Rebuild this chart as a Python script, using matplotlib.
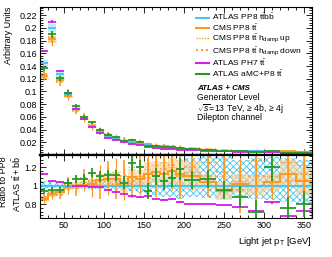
import numpy as np
import matplotlib
matplotlib.use("Agg")
import matplotlib.pyplot as plt
import matplotlib.ticker as ticker

plt.rcParams['font.family'] = ['Liberation Sans', 'DejaVu Sans']
plt.rcParams['mathtext.fontset'] = 'custom'
plt.rcParams['mathtext.rm'] = 'Liberation Sans'
plt.rcParams['mathtext.it'] = 'Liberation Sans:italic'
plt.rcParams['mathtext.bf'] = 'Liberation Sans:bold'
plt.rcParams['hatch.linewidth'] = 0.6

# bin edges of light jet pT [GeV]
edges = [20, 30, 40, 50, 60, 70, 80, 90, 100, 110, 120, 130, 140, 150, 160,
         170, 180, 190, 200, 220, 240, 260, 280, 300, 320, 340, 360]

# ATLAS PP8 ttbb (reference) normalised distribution
ref = [0.145, 0.200, 0.127, 0.095, 0.072, 0.056, 0.045, 0.036, 0.029, 0.025,
       0.022, 0.019, 0.017, 0.015, 0.013, 0.012, 0.011, 0.010, 0.009, 0.008,
       0.007, 0.0065, 0.006, 0.0055, 0.005, 0.0048]
ref_lo = [0.96, 0.97, 0.97, 0.97, 0.97, 0.96, 0.96, 0.96, 0.95, 0.95, 0.94, 0.94, 0.92,
          0.91, 0.90, 0.88, 0.88, 0.86, 0.88, 0.87, 0.86, 0.88, 0.85, 0.84, 0.82, 0.80]
ref_hi = [1.05, 1.04, 1.04, 1.03, 1.03, 1.03, 1.04, 1.04, 1.04, 1.05, 1.05, 1.06, 1.06,
          1.05, 1.08, 1.10, 1.12, 1.15, 1.30, 1.32, 1.32, 1.28, 1.30, 1.31, 1.30, 1.28]

# ratios to ATLAS PP8 ttbb
cms = [0.86, 0.91, 0.93, 0.98, 1.00, 1.01, 1.02, 1.06, 1.07, 1.07, 1.00, 1.09, 1.07,
       1.13, 1.15, 1.12, 1.16, 1.12, 1.10, 1.04, 0.94, 1.02, 1.00, 1.04, 1.13, 1.05]
cms_err = [0.03, 0.03, 0.03, 0.03, 0.04, 0.04, 0.05, 0.06, 0.07, 0.08, 0.08, 0.09, 0.10,
           0.12, 0.12, 0.13, 0.14, 0.15, 0.15, 0.08, 0.10, 0.10, 0.10, 0.10, 0.15, 0.15]
hup = [0.84, 0.90, 0.95, 0.97, 1.02, 1.04, 1.00, 1.10, 1.05, 1.15, 1.02, 1.20, 1.10,
       1.18, 1.22, 1.25, 1.20, 1.28, 1.15, 1.25, 1.10, 1.05, 1.28, 1.10, 1.25, 1.22]
hup_err = [0.03, 0.04, 0.05, 0.06, 0.08, 0.10, 0.12, 0.12, 0.15, 0.15, 0.18, 0.20, 0.20,
           0.20, 0.22, 0.25, 0.25, 0.25, 0.20, 0.20, 0.22, 0.25, 0.25, 0.25, 0.30, 0.30]
hdn = [0.88, 0.93, 0.90, 1.02, 0.97, 1.08, 1.05, 1.00, 1.12, 1.02, 1.10, 1.05, 1.20,
       1.08, 1.10, 1.18, 1.22, 1.10, 1.20, 1.10, 1.15, 0.95, 1.10, 1.20, 1.05, 1.12]
hdn_err = [0.03, 0.04, 0.05, 0.07, 0.08, 0.10, 0.10, 0.14, 0.15, 0.16, 0.18, 0.18, 0.20,
           0.22, 0.22, 0.22, 0.25, 0.25, 0.22, 0.22, 0.25, 0.25, 0.28, 0.28, 0.30, 0.30]
ph7 = [1.13, 1.05, 1.04, 1.03, 1.00, 1.00, 0.99, 0.98, 0.95, 0.93, 0.91, 0.89, 0.88,
       0.89, 0.86, 0.84, 0.85, 0.82, 0.80, 0.80, 0.79, 0.77, 0.73, 0.82, 0.67, 0.73]
ph7_err = [0.01, 0.01, 0.01, 0.01, 0.01, 0.01, 0.01, 0.01, 0.01, 0.01, 0.01, 0.01, 0.01,
           0.01, 0.01, 0.01, 0.01, 0.01, 0.01, 0.01, 0.015, 0.015, 0.015, 0.015, 0.02, 0.02]
amc = [0.94, 0.95, 0.95, 1.03, 1.07, 1.07, 1.14, 1.10, 1.11, 1.11, 1.03, 1.24, 1.20,
       0.94, 1.10, 1.05, 1.08, 1.18, 1.06, 1.07, 0.95, 0.88, 0.72, 1.20, 0.76, 0.80]
amc_err = [0.03, 0.03, 0.03, 0.04, 0.04, 0.05, 0.05, 0.06, 0.06, 0.06, 0.07, 0.08, 0.08,
           0.09, 0.09, 0.10, 0.10, 0.12, 0.10, 0.10, 0.10, 0.12, 0.12, 0.15, 0.12, 0.14]

C_CYAN = '#45c4ee'
C_ORA = '#ff9a1f'
C_MAG = '#d21ee6'
C_GRN = '#259a25'
C_PEACH = '#fbcf9c'

edges = np.array(edges, dtype=float)
cen = 0.5 * (edges[1:] + edges[:-1])
hw = 0.5 * (edges[1:] - edges[:-1])
ref = np.array(ref)


def stepvals(v):
    v = np.asarray(v, dtype=float)
    return np.append(v, v[-1])


def dotted(eb, kind):
    eb[2][0].set_linestyle((0, (1, 1)) if kind == 'up' else (0, (1, 2)))


fig = plt.figure(figsize=(3.32, 2.57), dpi=100)
ax = fig.add_axes([40 / 332, 1 - 155 / 257, 272 / 332, 148 / 257])
rax = fig.add_axes([40 / 332, 1 - 218 / 257, 272 / 332, 63 / 257], sharex=ax)

# ---- top panel ----
for r, e, kind in [(hup, hup_err, 'up'), (hdn, hdn_err, 'dn')]:
    eb = ax.errorbar(cen, ref * np.array(r), xerr=hw, yerr=ref * np.array(e), fmt='none',
                     ecolor=C_ORA, elinewidth=0.9 if kind == 'up' else 1.2)
    dotted(eb, kind)

cms_val = ref * np.array(cms)
cms_e = ref * np.array(cms_err)
ax.bar(cen, 2 * cms_e, bottom=cms_val - cms_e, width=2 * hw, color=C_PEACH, alpha=0.7, lw=0)
ax.errorbar(cen, cms_val, xerr=hw, yerr=cms_e, fmt='none', ecolor=C_ORA, elinewidth=1.3)

ax.bar(cen, ref * 0.06, bottom=ref * 0.97, width=2 * hw, color=C_CYAN, alpha=0.35, lw=0)
ax.errorbar(cen, ref, xerr=hw, fmt='none', ecolor=C_CYAN, elinewidth=1.3)

for r, e, c in [(ph7, ph7_err, C_MAG), (amc, amc_err, C_GRN)]:
    ax.errorbar(cen, ref * np.array(r), xerr=hw, yerr=ref * np.array(e), fmt='none',
                ecolor=c, elinewidth=1.3)

# legend handles
ax.plot([], [], color=C_CYAN, lw=1.5, label=r'ATLAS PP8 $\mathrm{t\bar{t}b\bar{b}}$')
ax.plot([], [], color=C_ORA, lw=1.5, label=r'CMS PP8 $\mathrm{t\bar{t}}$')
ax.plot([], [], color=C_ORA, lw=1.0, ls=(0, (1, 1)),
        label=r'CMS PP8 $\mathrm{t\bar{t}}$ $\mathrm{h_{damp}}$ up')
ax.plot([], [], color=C_ORA, lw=1.4, ls=(0, (1, 1.6)),
        label=r'CMS PP8 $\mathrm{t\bar{t}}$ $\mathrm{h_{damp}}$ down')
ax.plot([], [], color=C_MAG, lw=1.5, label=r'ATLAS PH7 $\mathrm{t\bar{t}}$')
ax.plot([], [], color=C_GRN, lw=1.5, label=r'ATLAS aMC+P8 $\mathrm{t\bar{t}}$')
fig.legend(loc='upper left', bbox_to_anchor=(196 / 332, 1 - 12 / 257), frameon=False,
           fontsize=6, handlelength=1.6, handletextpad=0.3, labelspacing=0.0,
           borderpad=0, borderaxespad=0)

fig.text(197 / 332, 1 - 88 / 257, 'ATLAS + CMS', fontsize=5.8, fontweight='bold',
         fontstyle='italic', va='center')
fig.text(197 / 332, 1 - 98 / 257, 'Generator Level', fontsize=6.2, va='center')
fig.text(197 / 332, 1 - 108 / 257, r'$\sqrt{s}$=13 TeV, ≥ 4b, ≥ 4j', fontsize=6.2,
         va='center')
fig.text(197 / 332, 1 - 118 / 257, 'Dilepton channel', fontsize=6.2, va='center')

ax.set_ylim(0, 0.233)
ax.set_yticks(np.arange(0.02, 0.225, 0.02))
ax.yaxis.set_major_formatter(ticker.FormatStrFormatter('%g'))
ax.yaxis.set_minor_locator(ticker.MultipleLocator(0.004))
ax.set_ylabel('Arbitrary Units', fontsize=6.5, loc='top')
plt.setp(ax.get_xticklabels(), visible=False)
ax.spines['bottom'].set_linewidth(1.6)

# ---- ratio panel ----
rax.fill_between(edges, stepvals(ref_lo), stepvals(ref_hi), step='post',
                 facecolor='none', edgecolor=C_CYAN, hatch='xxxxx', lw=0)
rax.fill_between(edges, stepvals(np.array(cms) - cms_err),
                 stepvals(np.array(cms) + cms_err), step='post',
                 color=C_PEACH, alpha=0.6, lw=0)
rax.axhline(1.0, color=C_CYAN, lw=1.5)
for r, e, kind in [(hup, hup_err, 'up'), (hdn, hdn_err, 'dn')]:
    eb = rax.errorbar(cen, r, xerr=hw, yerr=e, fmt='none', ecolor=C_ORA,
                      elinewidth=0.9 if kind == 'up' else 1.2)
    dotted(eb, kind)
rax.stairs(cms, edges, color=C_ORA, lw=1.5)
rax.errorbar(cen, ph7, xerr=hw, yerr=ph7_err, fmt='none', ecolor=C_MAG, elinewidth=1.3)
rax.errorbar(cen, amc, xerr=hw, yerr=amc_err, fmt='none', ecolor=C_GRN, elinewidth=1.3)

rax.set_ylim(0.65, 1.33)
rax.set_yticks([0.8, 1.0, 1.2])
rax.yaxis.set_major_formatter(ticker.FormatStrFormatter('%g'))
rax.yaxis.set_minor_locator(ticker.MultipleLocator(0.04))
rax.set_xlim(20, 360)
rax.xaxis.set_major_locator(ticker.MultipleLocator(50))
rax.xaxis.set_minor_locator(ticker.MultipleLocator(10))
rax.set_ylabel('Ratio to PP8\n' + r'ATLAS $\mathrm{t\bar{t}+b\bar{b}}$', fontsize=6.5,
               loc='top', linespacing=1.2)
rax.set_xlabel(r'Light jet p$_\mathrm{T}$ [GeV]', fontsize=6.8, loc='right', labelpad=4)
rax.spines['top'].set_linewidth(1.6)

for a in (ax, rax):
    a.tick_params(which='both', direction='in', top=True, right=True,
                  labelsize=6.5, width=0.6, pad=2)
    a.tick_params(which='major', length=4)
    a.tick_params(which='minor', length=2)
    for s in ('left', 'right'):
        a.spines[s].set_linewidth(0.8)
ax.spines['top'].set_linewidth(0.8)
rax.spines['bottom'].set_linewidth(0.8)
ax.yaxis.set_label_coords(-0.1, 1.0)
rax.yaxis.set_label_coords(-0.063, 0.98)

fig.savefig('out.png', dpi=100)
